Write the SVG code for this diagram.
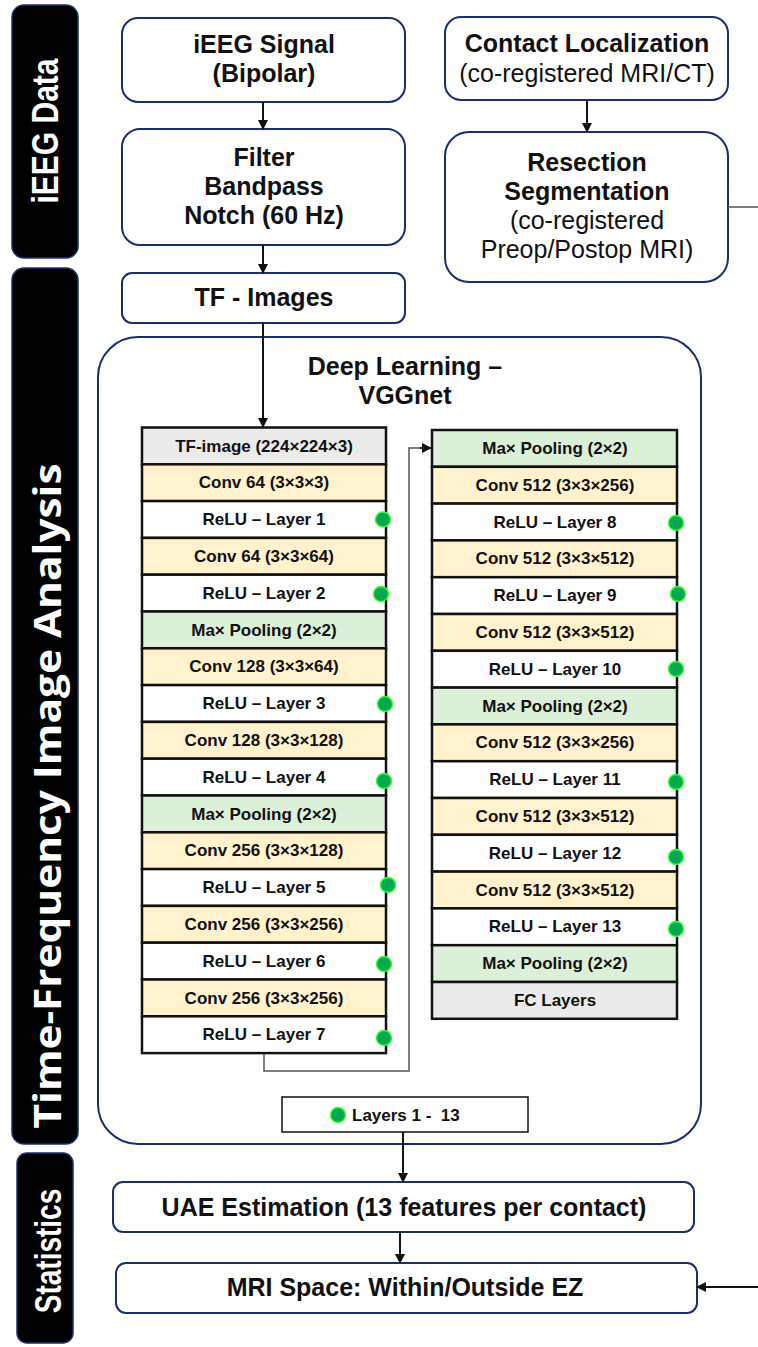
<svg xmlns="http://www.w3.org/2000/svg" width="758" height="1347" viewBox="0 0 758 1347">
<style>
.side{fill:#000;stroke:#1c2e6e;stroke-width:1.5}
.sidet{fill:#fff;font-family:"Liberation Sans",Arial,sans-serif;font-weight:bold;text-anchor:middle}
.node{fill:#fff;stroke:#1c2e6e;stroke-width:2}
.t{font-family:"Liberation Sans",Arial,sans-serif;font-size:25px;fill:#111;text-anchor:middle}
.b{font-weight:bold}
.row{stroke:#111;stroke-width:2.5}
.conv{fill:#fff2cc}
.pool{fill:#dcefd8}
.gray{fill:#ebebeb}
.relu{fill:#fff}
.rt{font-family:"Liberation Sans",Arial,sans-serif;font-size:17px;font-weight:bold;fill:#111;text-anchor:middle}
.dot{fill:#00a84f;stroke:#33ff33;stroke-width:1.5}
.ar{stroke:#111;stroke-width:2;fill:none}
.thin{stroke:#555;stroke-width:1.5;fill:none}
</style>
<defs>
<marker id="ah" markerWidth="10" markerHeight="10" refX="9" refY="5" orient="auto" markerUnits="userSpaceOnUse">
<path d="M0,0 L10,5 L0,10 Z" fill="#111"/>
</marker>
</defs>

<g id="side-ieeg">
<rect class="side" x="12" y="5" width="66" height="253" rx="12"/>
<text class="sidet" font-size="30" transform="translate(58,131) rotate(-90) scale(1,1.2)">iEEG Data</text>
</g>
<g id="side-tf">
<rect class="side" x="12" y="268" width="66" height="876" rx="12"/>
<text class="sidet" style="font-family:'Open Sans',sans-serif" font-size="38" textLength="665" lengthAdjust="spacingAndGlyphs" transform="translate(61,796) rotate(-90)">Time-Frequency Image Analysis</text>
</g>
<g id="side-stats">
<rect class="side" x="17" y="1153" width="56" height="190" rx="10"/>
<text class="sidet" font-size="28" transform="translate(61,1251) rotate(-90) scale(1,1.3)">Statistics</text>
</g>

<g id="ieeg-signal">
<rect class="node" x="122" y="18" width="283" height="84" rx="16"/>
<text class="t b" x="264" y="53">iEEG Signal</text>
<text class="t b" x="264" y="82">(Bipolar)</text>
</g>
<g id="filter">
<rect class="node" x="122" y="129" width="283" height="116" rx="18"/>
<text class="t b" x="264" y="166">Filter</text>
<text class="t b" x="264" y="195">Bandpass</text>
<text class="t b" x="264" y="224">Notch (60 Hz)</text>
</g>
<g id="tf-images">
<rect class="node" x="122" y="273" width="283" height="50" rx="10"/>
<text class="t b" x="264" y="306">TF - Images</text>
</g>
<g id="contact">
<rect class="node" x="445" y="17" width="283" height="83" rx="16"/>
<text class="t b" x="587" y="52">Contact Localization</text>
<text class="t" x="587" y="82">(co-registered MRI/CT)</text>
</g>
<g id="resection">
<rect class="node" x="445" y="132" width="283" height="150" rx="24"/>
<text class="t b" x="587" y="171">Resection</text>
<text class="t b" x="587" y="200">Segmentation</text>
<text class="t" x="587" y="229">(co-registered</text>
<text class="t" x="587" y="258">Preop/Postop MRI)</text>
</g>

<g id="vggnet">
<rect class="node" x="98" y="337" width="603" height="807" rx="40"/>
<text class="t b" x="405" y="375">Deep Learning –</text>
<text class="t b" x="405" y="404">VGGnet</text>
</g>

<g id="left-col">
<g id="l0"><rect class="row gray" x="142" y="427.5" width="244" height="36.8"/><text class="rt" x="264" y="451.5">TF-image (224×224×3)</text></g>
<g id="l1"><rect class="row conv" x="142" y="464.3" width="244" height="36.8"/><text class="rt" x="264" y="488.3">Conv 64 (3×3×3)</text></g>
<g id="l2"><rect class="row relu" x="142" y="501.1" width="244" height="36.8"/><text class="rt" x="264" y="525.1">ReLU – Layer 1</text><circle class="dot" cx="383" cy="519.5" r="7.5"/></g>
<g id="l3"><rect class="row conv" x="142" y="537.9" width="244" height="36.8"/><text class="rt" x="264" y="561.9">Conv 64 (3×3×64)</text></g>
<g id="l4"><rect class="row relu" x="142" y="574.7" width="244" height="36.8"/><text class="rt" x="264" y="598.7">ReLU – Layer 2</text><circle class="dot" cx="381" cy="594" r="7.5"/></g>
<g id="l5"><rect class="row pool" x="142" y="611.5" width="244" height="36.8"/><text class="rt" x="264" y="635.5">Ma× Pooling (2×2)</text></g>
<g id="l6"><rect class="row conv" x="142" y="648.3" width="244" height="36.8"/><text class="rt" x="264" y="672.3">Conv 128 (3×3×64)</text></g>
<g id="l7"><rect class="row relu" x="142" y="685.1" width="244" height="36.8"/><text class="rt" x="264" y="709.1">ReLU – Layer 3</text><circle class="dot" cx="385" cy="704" r="7.5"/></g>
<g id="l8"><rect class="row conv" x="142" y="721.9" width="244" height="36.8"/><text class="rt" x="264" y="745.9">Conv 128 (3×3×128)</text></g>
<g id="l9"><rect class="row relu" x="142" y="758.7" width="244" height="36.8"/><text class="rt" x="264" y="782.7">ReLU – Layer 4</text><circle class="dot" cx="384" cy="781" r="7.5"/></g>
<g id="l10"><rect class="row pool" x="142" y="795.5" width="244" height="36.8"/><text class="rt" x="264" y="819.5">Ma× Pooling (2×2)</text></g>
<g id="l11"><rect class="row conv" x="142" y="832.3" width="244" height="36.8"/><text class="rt" x="264" y="856.3">Conv 256 (3×3×128)</text></g>
<g id="l12"><rect class="row relu" x="142" y="869.1" width="244" height="36.8"/><text class="rt" x="264" y="893.1">ReLU – Layer 5</text><circle class="dot" cx="388" cy="885" r="7.5"/></g>
<g id="l13"><rect class="row conv" x="142" y="905.9" width="244" height="36.8"/><text class="rt" x="264" y="929.9">Conv 256 (3×3×256)</text></g>
<g id="l14"><rect class="row relu" x="142" y="942.7" width="244" height="36.8"/><text class="rt" x="264" y="966.7">ReLU – Layer 6</text><circle class="dot" cx="384" cy="964" r="7.5"/></g>
<g id="l15"><rect class="row conv" x="142" y="979.5" width="244" height="36.8"/><text class="rt" x="264" y="1003.5">Conv 256 (3×3×256)</text></g>
<g id="l16"><rect class="row relu" x="142" y="1016.3" width="244" height="36.8"/><text class="rt" x="264" y="1040.3">ReLU – Layer 7</text><circle class="dot" cx="384" cy="1038" r="7.5"/></g>
</g>

<g id="right-col">
<g id="r0"><rect class="row pool" x="432" y="430" width="245" height="36.8"/><text class="rt" x="555" y="454">Ma× Pooling (2×2)</text></g>
<g id="r1"><rect class="row conv" x="432" y="466.8" width="245" height="36.8"/><text class="rt" x="555" y="490.8">Conv 512 (3×3×256)</text></g>
<g id="r2"><rect class="row relu" x="432" y="503.6" width="245" height="36.8"/><text class="rt" x="555" y="527.6">ReLU – Layer 8</text><circle class="dot" cx="676" cy="523" r="7.5"/></g>
<g id="r3"><rect class="row conv" x="432" y="540.4" width="245" height="36.8"/><text class="rt" x="555" y="564.4">Conv 512 (3×3×512)</text></g>
<g id="r4"><rect class="row relu" x="432" y="577.2" width="245" height="36.8"/><text class="rt" x="555" y="601.2">ReLU – Layer 9</text><circle class="dot" cx="678" cy="594" r="7.5"/></g>
<g id="r5"><rect class="row conv" x="432" y="614" width="245" height="36.8"/><text class="rt" x="555" y="638">Conv 512 (3×3×512)</text></g>
<g id="r6"><rect class="row relu" x="432" y="650.8" width="245" height="36.8"/><text class="rt" x="555" y="674.8">ReLU – Layer 10</text><circle class="dot" cx="676" cy="669" r="7.5"/></g>
<g id="r7"><rect class="row pool" x="432" y="687.6" width="245" height="36.8"/><text class="rt" x="555" y="711.6">Ma× Pooling (2×2)</text></g>
<g id="r8"><rect class="row conv" x="432" y="724.4" width="245" height="36.8"/><text class="rt" x="555" y="748.4">Conv 512 (3×3×256)</text></g>
<g id="r9"><rect class="row relu" x="432" y="761.2" width="245" height="36.8"/><text class="rt" x="555" y="785.2">ReLU – Layer 11</text><circle class="dot" cx="676" cy="782" r="7.5"/></g>
<g id="r10"><rect class="row conv" x="432" y="798" width="245" height="36.8"/><text class="rt" x="555" y="822">Conv 512 (3×3×512)</text></g>
<g id="r11"><rect class="row relu" x="432" y="834.8" width="245" height="36.8"/><text class="rt" x="555" y="858.8">ReLU – Layer 12</text><circle class="dot" cx="676" cy="857" r="7.5"/></g>
<g id="r12"><rect class="row conv" x="432" y="871.6" width="245" height="36.8"/><text class="rt" x="555" y="895.6">Conv 512 (3×3×512)</text></g>
<g id="r13"><rect class="row relu" x="432" y="908.4" width="245" height="36.8"/><text class="rt" x="555" y="932.4">ReLU – Layer 13</text><circle class="dot" cx="676" cy="929" r="7.5"/></g>
<g id="r14"><rect class="row pool" x="432" y="945.2" width="245" height="36.8"/><text class="rt" x="555" y="969.2">Ma× Pooling (2×2)</text></g>
<g id="r15"><rect class="row gray" x="432" y="982" width="245" height="36.8"/><text class="rt" x="555" y="1006">FC Layers</text></g>
</g>

<g id="legend">
<rect x="282" y="1097" width="246" height="35" fill="#fff" stroke="#111" stroke-width="1.5"/>
<circle class="dot" cx="338" cy="1115" r="7.5"/>
<text class="rt" x="352" y="1121" style="text-anchor:start;white-space:pre" xml:space="preserve">Layers 1 -  13</text>
</g>

<g id="uae">
<rect class="node" x="113" y="1182" width="581" height="50" rx="10"/>
<text class="t b" x="404" y="1216">UAE Estimation (13 features per contact)</text>
</g>
<g id="mri-space">
<rect class="node" x="116" y="1263" width="581" height="50" rx="10"/>
<text class="t b" x="405" y="1296">MRI Space: Within/Outside EZ</text>
</g>

<g id="connectors">
<line class="ar" x1="263" y1="102" x2="263" y2="129" marker-end="url(#ah)"/>
<line class="ar" x1="263" y1="245" x2="263" y2="273" marker-end="url(#ah)"/>
<line class="ar" x1="587" y1="100" x2="587" y2="132" marker-end="url(#ah)"/>
<line class="ar" x1="263" y1="323" x2="263" y2="427" marker-end="url(#ah)"/>
<polyline class="thin" points="264,1054 264,1071 409,1071 409,448 424,448"/>
<line class="ar" x1="420" y1="448" x2="431" y2="448" marker-end="url(#ah)"/>
<line class="ar" x1="403" y1="1132" x2="403" y2="1182" marker-end="url(#ah)"/>
<line class="ar" x1="400" y1="1232" x2="400" y2="1263" marker-end="url(#ah)"/>
<line class="thin" x1="728" y1="207" x2="758" y2="207"/>
<line class="ar" x1="758" y1="1287" x2="697" y2="1287" stroke-width="1.5" marker-end="url(#ah)"/>
</g>
</svg>
